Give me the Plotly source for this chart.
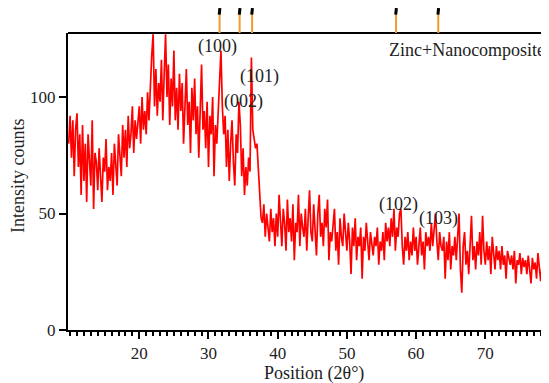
import numpy as np
import plotly.graph_objects as go

# 2-theta grid (degrees) and intensities
x_start = 9.8
x_step = 0.2
intensity = [
    80, 92, 74, 90, 66, 86, 93, 70, 84, 58,
    88, 64, 80, 55, 84, 70, 62, 90, 52, 76,
    72, 60, 78, 66, 55, 74, 68, 82, 60, 70,
    64, 76, 58, 80, 70, 62, 84, 72, 66, 88,
    74, 86, 70, 92, 78, 84, 96, 76, 90, 82,
    88, 96, 80, 100, 86, 94, 84, 102, 90, 108,
    118, 127, 96, 112, 92, 106, 98, 116, 90, 110,
    127, 100, 114, 88, 108, 96, 120, 90, 104, 86,
    110, 94, 106, 80, 100, 112, 88, 98, 76, 104,
    90, 108, 84, 96, 74, 100, 114, 86, 94, 78,
    98, 70, 92, 84, 100, 66, 88, 80, 96, 112,
    120, 96, 84, 92, 70, 86, 64, 80, 90, 72,
    62, 84, 76, 98, 88, 66, 78, 58, 70, 62,
    74, 68, 117, 86, 82, 78, 80, 70, 56, 48,
    46, 54, 40, 50, 44, 38, 52, 42, 48, 36,
    50, 40, 58, 44, 36, 52, 46, 34, 56, 42,
    48, 38, 54, 30, 46, 42, 58, 36, 50, 44,
    40, 52, 34, 48, 60, 42, 38, 54, 44, 32,
    50, 58, 40, 46, 36, 52, 44, 56, 30, 42,
    38, 46, 52, 34, 42, 28, 48, 40, 36, 50,
    42, 34, 46, 38, 24, 44, 36, 48, 30, 40,
    36, 44, 22, 40, 34, 46, 38, 30, 42, 36,
    32, 40, 36, 44, 28, 38, 34, 42, 30, 46,
    38, 44, 36, 48, 40, 52, 34, 44, 40, 50,
    52, 36, 28, 40, 34, 42, 30, 38, 32, 44,
    34, 40, 28, 36, 44, 32, 38, 26, 42, 36,
    40, 34, 46, 36, 44, 50, 38, 30, 42, 36,
    34, 40, 22, 38, 30, 42, 26, 36, 32, 40,
    30, 38, 50, 26, 16, 36, 42, 28, 34, 24,
    40, 49, 30, 36, 26, 38, 32, 42, 28, 49,
    34, 28, 38, 30, 36, 24, 40, 32, 26, 36,
    30, 34, 26, 36, 28, 32, 22, 34, 30, 28,
    32, 26, 34, 20, 30, 28, 33, 24, 31, 27,
    30, 24, 32, 27, 20, 31, 26, 29, 22, 33,
    26, 21, 28, 24, 29, 22, 27, 24,
]
two_theta = np.round(x_start + x_step * np.arange(len(intensity)), 2)

# reference pattern stick positions (top strip)
ref_positions = [31.6, 34.5, 36.3, 57.1, 63.2]

# peak labels
peak_labels = ["(100)", "(101)", "(002)", "(102)", "(103)"]
label_x = [31.3, 37.3, 35.0, 57.4, 63.2]
label_y = [121.5, 109, 98, 54, 48]

x_tick_values = [20, 30, 40, 50, 60, 70]
y_tick_values = [0, 50, 100]

sample_name = "Zinc+Nanocomposite"

FONT = "Liberation Serif, Times New Roman, serif"
TXT = "#222222"

fig = go.Figure()
fig.add_trace(go.Scatter(
    x=two_theta, y=intensity, mode="lines",
    line=dict(color="#ff0000", width=1.7),
    showlegend=False, hoverinfo="skip",
))

shapes = []
# top frame line
shapes.append(dict(type="line", xref="paper", yref="paper", x0=0, x1=1, y0=1, y1=1,
                   line=dict(color="black", width=2)))
for p in ref_positions:
    shapes.append(dict(type="line", xref="x", yref="paper", x0=p, x1=p,
                       y0=1.0, y1=1.072, line=dict(color="#f39a2a", width=2)))
    shapes.append(dict(type="line", xref="x", yref="paper", x0=p - 0.05, x1=p + 0.05,
                       y0=1.062, y1=1.084, line=dict(color="black", width=3)))

annotations = []
for t, lx, ly in zip(peak_labels, label_x, label_y):
    annotations.append(dict(x=lx, y=ly, xref="x", yref="y", text=t, showarrow=False,
                            font=dict(family=FONT, size=18, color=TXT),
                            xanchor="center", yanchor="middle"))
annotations.append(dict(x=55.8, y=120.2, xref="x", yref="y", text=sample_name,
                        showarrow=False, font=dict(family=FONT, size=18, color=TXT),
                        xanchor="left", yanchor="middle"))
annotations.append(dict(x=-0.104, y=0.522, xref="paper", yref="paper",
                        text="Intensity counts", textangle=-90, showarrow=False,
                        font=dict(family=FONT, size=18, color=TXT),
                        xanchor="center", yanchor="middle"))
annotations.append(dict(x=0.511, y=-0.147, xref="paper", yref="paper",
                        text="Position (2θ°)", showarrow=False,
                        font=dict(family=FONT, size=18, color=TXT),
                        xanchor="center", yanchor="middle"))

# the page body adds an 8px offset; margins compensate so the plot area
# lands at page x 68..549, y 33..330
fig.update_layout(
    width=549, height=383,
    margin=dict(l=60, r=8, t=25, b=61, autoexpand=False),
    paper_bgcolor="white", plot_bgcolor="white",
    font=dict(family=FONT, size=17, color=TXT),
    shapes=shapes, annotations=annotations,
    xaxis=dict(range=[9.7, 79.2], tickvals=x_tick_values, ticks="outside", ticklen=7,
               tickwidth=2, tickcolor="black", showline=True, linecolor="black",
               linewidth=2, showgrid=False, zeroline=False,
               tickfont=dict(family=FONT, size=17, color=TXT),
               minor=dict(dtick=1, tick0=0, ticks="outside", ticklen=4, tickwidth=1.5,
                          tickcolor="black", showgrid=False)),
    yaxis=dict(range=[0, 127.5], tickvals=y_tick_values, ticks="outside", ticklen=7,
               tickwidth=2, tickcolor="black", showline=True, linecolor="black",
               linewidth=2, showgrid=False, zeroline=False,
               tickfont=dict(family=FONT, size=17, color=TXT)),
)

fig.write_html("out.html")
